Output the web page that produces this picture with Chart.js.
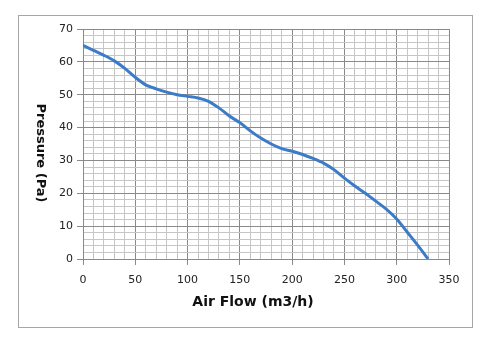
<!DOCTYPE html>
<html>
<head>
<meta charset="utf-8">
<script src="https://cdn.jsdelivr.net/npm/chart.js@4"></script>
<style>
  body { margin: 0; background: #fff; }
  #frame { position: absolute; left: 18px; top: 15px; width: 453px; height: 311px; border: 1px solid #a6a6a6; }
  #chart { position: absolute; left: 0; top: 0; }
</style>
</head>
<body>
<div id="frame"></div>
<canvas id="chart" width="500" height="347"></canvas>
<script>
// fan curve
const airFlow = [0, 10, 20, 30, 40, 50, 60, 70, 80, 90, 100, 110, 120, 130, 140, 150, 160,
                 170, 180, 190, 200, 210, 220, 230, 240, 250, 260, 270, 280, 290, 300, 310, 320, 330];
const pressure = [65, 63.5, 62, 60.3, 58, 55.3, 53, 51.8, 50.8, 50, 49.5, 49, 48, 46, 43.5, 41.5, 39,
                  36.8, 35, 33.6, 32.8, 31.8, 30.6, 29.2, 27.2, 24.6, 22.2, 20, 17.6, 15.2, 12.2, 8.2, 4.2, 0];

const xLabels = [0, 50, 100, 150, 200, 250, 300, 350];
const yLabels = [0, 10, 20, 30, 40, 50, 60, 70];

const majorColor = '#8a8a8a';
const minorColor = '#c6c6c6';

const axisTitles = {
    id: 'axisTitles',
    afterDraw(chart) {
        const ctx = chart.ctx;
        ctx.save();
        ctx.fillStyle = '#111';
        ctx.font = 'bold 14px "DejaVu Sans"';
        ctx.textAlign = 'center';
        ctx.textBaseline = 'middle';
        ctx.fillText('Air Flow (m3/h)', 253, 302);
        ctx.font = 'bold 13px "DejaVu Sans"';
        ctx.translate(40, 153);
        ctx.rotate(Math.PI / 2);
        ctx.fillText('Pressure (Pa)', 0, 0);
        ctx.restore();
    }
};

const ctx = document.getElementById('chart').getContext('2d');

const fanChart = new Chart(ctx, {
    type: 'line',
    data: {
        datasets: [{
            data: airFlow.map((x, i) => ({ x: x, y: pressure[i] })),
            borderColor: '#3b7bc8',
            borderWidth: 3,
            pointRadius: 0,
            tension: 0.3,
            fill: false
        }]
    },
    options: {
        responsive: false,
        animation: false,
        layout: { padding: { left: 0, top: 29, right: 51, bottom: 0 } },
        plugins: {
            legend: { display: false },
            tooltip: { enabled: false }
        },
        scales: {
            x: {
                type: 'linear',
                min: 0,
                max: 350,
                afterFit: (scale) => { scale.height = 88; },
                ticks: {
                    stepSize: 10,
                    autoSkip: false,
                    maxRotation: 0,
                    padding: 9,
                    color: '#222',
                    font: { family: 'DejaVu Sans', size: 11 },
                    callback: (v) => xLabels.includes(v) ? v : ''
                },
                grid: {
                    color: (c) => c.tick && c.tick.value % 50 === 0 ? majorColor : minorColor,
                    tickColor: (c) => c.tick && c.tick.value % 50 === 0 ? majorColor : 'rgba(0,0,0,0)',
                    tickLength: 6
                },
                border: { color: majorColor }
            },
            y: {
                min: 0,
                max: 70,
                afterFit: (scale) => { scale.width = 83; },
                ticks: {
                    stepSize: 2,
                    autoSkip: false,
                    padding: 4,
                    color: '#222',
                    font: { family: 'DejaVu Sans', size: 11 },
                    callback: (v) => yLabels.includes(v) ? v : ''
                },
                grid: {
                    color: (c) => c.tick && c.tick.value % 10 === 0 ? majorColor : minorColor,
                    tickColor: (c) => c.tick && c.tick.value % 10 === 0 ? majorColor : 'rgba(0,0,0,0)',
                    tickLength: 6
                },
                border: { color: majorColor }
            }
        }
    },
    plugins: [axisTitles]
});
</script>
</body>
</html>
